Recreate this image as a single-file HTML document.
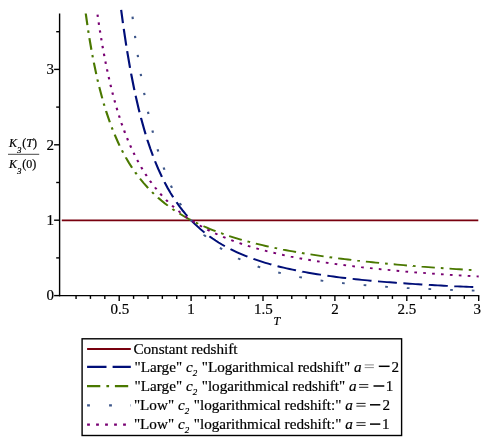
<!DOCTYPE html>
<html><head><meta charset="utf-8"><style>
html,body{margin:0;padding:0;background:#fff;}
body{width:490px;height:444px;overflow:hidden;position:relative;font-family:"Liberation Serif",serif;color:#000;}
svg{position:absolute;left:0;top:0;will-change:transform;opacity:0.999;}
text{font-family:"Liberation Serif",serif;fill:#000;white-space:pre;stroke:#000;stroke-width:0.2px;}
</style></head><body>
<svg width="490" height="444" viewBox="0 0 490 444">
<rect width="490" height="444" fill="#fff"/>
<g stroke="#000" stroke-width="1.4" fill="none">
<line x1="59.6" y1="13.5" x2="59.6" y2="296.3"/>
<line x1="58.9" y1="295.6" x2="479.3" y2="295.6"/>
<line x1="76.06" y1="295.6" x2="76.06" y2="298.90"/><line x1="90.44" y1="295.6" x2="90.44" y2="298.90"/><line x1="104.82" y1="295.6" x2="104.82" y2="298.90"/><line x1="119.20" y1="295.6" x2="119.20" y2="300.90"/><line x1="133.58" y1="295.6" x2="133.58" y2="298.90"/><line x1="147.96" y1="295.6" x2="147.96" y2="298.90"/><line x1="162.34" y1="295.6" x2="162.34" y2="298.90"/><line x1="176.72" y1="295.6" x2="176.72" y2="298.90"/><line x1="191.10" y1="295.6" x2="191.10" y2="300.90"/><line x1="205.48" y1="295.6" x2="205.48" y2="298.90"/><line x1="219.86" y1="295.6" x2="219.86" y2="298.90"/><line x1="234.24" y1="295.6" x2="234.24" y2="298.90"/><line x1="248.62" y1="295.6" x2="248.62" y2="298.90"/><line x1="263.00" y1="295.6" x2="263.00" y2="300.90"/><line x1="277.38" y1="295.6" x2="277.38" y2="298.90"/><line x1="291.76" y1="295.6" x2="291.76" y2="298.90"/><line x1="306.14" y1="295.6" x2="306.14" y2="298.90"/><line x1="320.52" y1="295.6" x2="320.52" y2="298.90"/><line x1="334.90" y1="295.6" x2="334.90" y2="300.90"/><line x1="349.28" y1="295.6" x2="349.28" y2="298.90"/><line x1="363.66" y1="295.6" x2="363.66" y2="298.90"/><line x1="378.04" y1="295.6" x2="378.04" y2="298.90"/><line x1="392.42" y1="295.6" x2="392.42" y2="298.90"/><line x1="406.80" y1="295.6" x2="406.80" y2="300.90"/><line x1="421.18" y1="295.6" x2="421.18" y2="298.90"/><line x1="435.56" y1="295.6" x2="435.56" y2="298.90"/><line x1="449.94" y1="295.6" x2="449.94" y2="298.90"/><line x1="464.32" y1="295.6" x2="464.32" y2="298.90"/><line x1="478.70" y1="295.6" x2="478.70" y2="300.90"/><line x1="54.10" y1="295.60" x2="59.6" y2="295.60"/><line x1="56.20" y1="257.90" x2="59.6" y2="257.90"/><line x1="54.10" y1="220.20" x2="59.6" y2="220.20"/><line x1="56.20" y1="182.50" x2="59.6" y2="182.50"/><line x1="54.10" y1="144.80" x2="59.6" y2="144.80"/><line x1="56.20" y1="107.10" x2="59.6" y2="107.10"/><line x1="54.10" y1="69.40" x2="59.6" y2="69.40"/><line x1="56.20" y1="31.70" x2="59.6" y2="31.70"/>
</g>
<path d="M61.8,220.35 H478.3" stroke="#78000E" stroke-width="1.9" fill="none"/>
<g fill="none" stroke-width="2.15" transform="scale(1,0.886)">
<path d="M121.17,11.17 L121.29,12.21 L122.94,26.08 M123.75,32.53 L123.80,32.90 L126.26,51.36 M127.17,57.80 L127.25,58.34 L130.04,76.58 M131.09,83.00 L131.18,83.55 L134.16,100.41 L134.41,101.70 M135.63,108.09 L135.71,108.51 L138.69,122.95 L139.51,126.69 M140.96,133.02 L141.08,133.52 L144.06,145.66 L145.58,151.45 M147.32,157.72 L147.39,157.98 L150.37,167.99 L152.91,175.87 M155.03,182.02 L155.14,182.31 L158.12,190.34 L161.10,197.74 L161.93,199.72 M164.56,205.66 L164.67,205.90 L167.65,212.14 L170.63,217.94 L173.18,222.58 M176.48,228.18 L176.59,228.36 L179.57,233.05 L182.55,237.43 L185.53,241.53 L187.27,243.81 M191.37,248.85 L191.49,248.99 L194.47,252.38 L197.45,255.57 L200.43,258.58 L203.40,261.42 L204.58,262.49 M209.50,266.74 L209.60,266.83 L212.58,269.22 L215.56,271.48 L218.54,273.62 L221.52,275.66 L224.50,277.59 L224.90,277.84 M230.48,281.19 L230.58,281.25 L233.56,282.91 L236.54,284.49 L239.51,286.00 L242.49,287.45 L245.47,288.83 L247.45,289.71 M253.44,292.22 L253.46,292.23 L256.44,293.40 L259.42,294.52 L262.40,295.60 L265.38,296.63 L268.36,297.62 L271.33,298.57 L271.34,298.58 M277.57,300.45 L277.65,300.47 L280.63,301.31 L283.61,302.12 L286.59,302.90 L289.57,303.65 L292.55,304.38 L295.53,305.07 L295.97,305.18 M302.31,306.57 L302.32,306.58 L305.30,307.20 L308.28,307.80 L311.26,308.38 L314.24,308.94 L317.22,309.48 L320.20,310.00 L320.98,310.14 M327.39,311.20 L327.47,311.21 L330.45,311.68 L333.43,312.14 L336.40,312.58 L339.38,313.01 L342.36,313.42 L345.34,313.82 L346.19,313.94 M352.64,314.76 L352.73,314.77 L355.71,315.13 L358.69,315.49 L361.67,315.83 L364.65,316.16 L367.63,316.48 L370.61,316.80 L371.52,316.89 M377.98,317.54 L378.00,317.54 L380.98,317.83 L383.96,318.11 L386.93,318.38 L389.91,318.64 L392.89,318.90 L395.87,319.15 L396.91,319.24 M403.39,319.76 L403.50,319.76 L406.48,319.99 L409.46,320.22 L412.44,320.44 L415.42,320.65 L418.40,320.86 L421.38,321.06 L422.34,321.12 M428.82,321.54 L428.88,321.55 L431.86,321.74 L434.84,321.92 L437.82,322.10 L440.80,322.27 L443.78,322.44 L446.76,322.61 L447.79,322.66 M454.28,323.01 L454.39,323.02 L457.37,323.17 L460.35,323.32 L463.33,323.47 L466.31,323.61 L469.29,323.75 L472.26,323.89 L473.26,323.94 " stroke="#000E78"/>
<path d="M85.74,15.24 L85.87,16.31 L87.40,28.43 M88.19,34.38 L88.21,34.52 L88.56,37.05 M89.41,42.99 L89.52,43.76 L91.40,56.14 M92.36,62.07 L92.39,62.21 L92.81,64.73 M93.83,70.64 L93.95,71.31 L96.27,83.72 M97.45,89.60 L97.47,89.72 L98.00,92.24 M99.26,98.11 L99.30,98.29 L102.28,111.06 M103.76,116.88 L103.86,117.28 L104.45,119.49 M106.03,125.27 L106.08,125.44 L109.34,136.38 L109.86,138.01 M111.73,143.71 L111.82,143.96 L112.61,146.26 M114.64,151.91 L114.69,152.03 L117.95,160.41 L119.55,164.27 M121.98,169.76 L121.99,169.79 L123.11,172.21 M125.73,177.60 L125.77,177.69 L129.03,183.91 L132.08,189.29 M135.20,194.41 L135.29,194.56 L136.66,196.68 M140.02,201.65 L140.12,201.79 L143.38,206.26 L146.64,210.44 L148.09,212.22 M152.01,216.76 L152.12,216.88 L153.83,218.76 M157.99,223.08 L158.11,223.20 L161.37,226.36 L164.63,229.34 L167.79,232.07 M172.45,235.85 L172.46,235.86 L174.59,237.49 M179.44,241.02 L179.50,241.07 L182.76,243.29 L186.02,245.42 L189.28,247.44 L190.61,248.24 M195.81,251.23 L195.93,251.30 L198.18,252.53 M203.50,255.29 L203.63,255.35 L206.89,256.95 L210.15,258.49 L213.41,259.96 L215.56,260.90 M221.09,263.22 L221.10,263.22 L223.60,264.22 M229.21,266.36 L229.32,266.40 L232.58,267.59 L235.84,268.73 L239.10,269.83 L241.78,270.71 M247.50,272.51 L247.58,272.53 L250.08,273.29 M255.85,274.95 L255.92,274.98 L259.18,275.88 L262.44,276.75 L265.71,277.60 L268.70,278.36 M274.53,279.78 L274.57,279.79 L277.16,280.40 M283.01,281.72 L283.05,281.73 L286.31,282.43 L289.57,283.12 L292.83,283.79 L296.03,284.43 M301.92,285.57 L301.96,285.58 L304.58,286.07 M310.48,287.14 L310.57,287.15 L313.83,287.72 L317.09,288.27 L320.35,288.82 L323.60,289.34 M329.53,290.27 L329.61,290.29 L332.20,290.68 M338.13,291.56 L338.21,291.57 L341.48,292.03 L344.74,292.49 L348.00,292.94 L351.26,293.37 L351.31,293.38 M357.26,294.15 L357.39,294.17 L359.93,294.49 M365.89,295.22 L365.99,295.23 L369.25,295.62 L372.51,296.00 L375.77,296.38 L379.03,296.74 L379.10,296.75 M385.07,297.40 L385.16,297.41 L387.75,297.69 M393.72,298.31 L393.77,298.31 L397.03,298.64 L400.29,298.97 L403.55,299.28 L406.81,299.59 L406.95,299.61 M412.93,300.16 L412.94,300.17 L415.62,300.41 M421.59,300.94 L421.68,300.95 L424.94,301.23 L428.20,301.51 L431.46,301.78 L434.72,302.05 L434.85,302.06 M440.83,302.54 L440.85,302.54 L443.52,302.75 M449.50,303.21 L449.59,303.21 L452.85,303.46 L456.11,303.70 L459.37,303.94 L462.63,304.17 L462.77,304.18 M468.75,304.60 L468.76,304.60 L471.45,304.78 " stroke="#4A7800"/>
<path d="M132.52,18.85 L132.63,19.91 L132.81,21.53 M134.97,40.38 L135.06,41.12 L135.29,43.06 M137.68,61.88 L137.71,62.12 L138.04,64.56 M140.70,83.34 L140.71,83.40 L141.10,86.01 M144.10,104.74 L144.17,105.16 L144.55,107.40 M147.96,126.06 L147.98,126.15 L148.48,128.71 M152.40,147.27 L152.48,147.64 L153.00,149.90 M157.56,168.32 L157.56,168.32 L158.26,170.92 M163.65,189.11 L163.67,189.19 L164.48,191.68 M170.95,209.51 L171.06,209.79 L171.96,212.01 M179.83,229.27 L179.83,229.27 L181.07,231.67 M190.73,247.98 L190.79,248.07 L192.25,250.21 M204.06,265.04 L204.06,265.05 L205.90,267.02 M219.94,279.75 L219.99,279.78 L222.09,281.39 M238.03,291.63 L238.10,291.67 L240.41,292.91 M257.67,300.76 L257.72,300.78 L260.19,301.72 M278.22,307.59 L278.26,307.60 L280.83,308.31 M299.28,312.70 L299.38,312.72 L301.93,313.24 M320.60,316.55 L320.61,316.55 L323.27,316.96 M342.07,319.49 L342.07,319.49 L344.75,319.81 M363.62,321.78 L363.65,321.78 L366.31,322.02 M385.21,323.58 L385.23,323.58 L387.91,323.78 M406.84,325.02 L406.92,325.03 L409.53,325.18 M428.47,326.20 L428.50,326.20 L431.17,326.33 M450.12,327.15 L450.20,327.16 L452.82,327.26 M471.78,327.95 L471.89,327.95 L474.48,328.04 " stroke="#3E578A"/>
<path d="M97.50,16.48 L97.63,17.48 L97.84,19.16 M98.65,25.32 L98.77,26.24 L99.01,28.00 M99.86,34.16 L99.91,34.56 L100.23,36.84 M101.13,42.99 L101.18,43.35 L101.53,45.66 M102.47,51.81 L102.58,52.50 L102.89,54.48 M103.89,60.62 L103.98,61.14 L104.34,63.28 M105.39,69.41 L105.50,70.03 L105.87,72.07 M106.99,78.18 L107.03,78.42 L107.49,80.84 M108.67,86.94 L108.68,86.97 L109.21,89.59 M110.47,95.68 L110.59,96.22 L111.04,98.32 M112.38,104.39 L112.49,104.87 L112.99,107.02 M114.43,113.08 L114.53,113.48 L115.07,115.70 M116.61,121.72 L116.69,122.02 L117.30,124.33 M118.95,130.33 L118.97,130.43 L119.69,132.93 M121.46,138.89 L121.51,139.09 L122.25,141.47 M124.15,147.39 L124.18,147.49 L125.01,149.96 M127.05,155.83 L127.11,155.97 L127.98,158.37 M130.18,164.18 L130.28,164.43 L131.18,166.69 M133.56,172.44 L133.59,172.49 L134.64,174.91 M137.21,180.58 L137.27,180.70 L138.37,183.01 M141.16,188.57 L141.21,188.67 L142.41,190.96 M145.42,196.41 L145.53,196.60 L146.78,198.74 M150.02,204.05 L150.10,204.18 L151.49,206.32 M154.98,211.46 L155.06,211.58 L156.55,213.66 M160.31,218.62 L160.40,218.73 L161.99,220.73 M166.01,225.48 L166.11,225.60 L167.80,227.49 M172.07,232.01 L172.09,232.03 L173.98,233.92 M178.50,238.20 L178.57,238.26 L180.51,240.00 M185.27,244.01 L185.30,244.04 L187.38,245.70 M192.34,249.44 L192.42,249.50 L194.54,251.01 M199.69,254.49 L199.79,254.55 L201.97,255.94 M207.29,259.16 L207.41,259.23 L209.64,260.50 M215.10,263.47 L215.16,263.50 L217.50,264.70 M223.09,267.43 L223.17,267.47 L225.54,268.57 M231.23,271.07 L231.30,271.10 L233.73,272.12 M239.50,274.42 L239.56,274.44 L242.03,275.38 M247.88,277.49 L247.95,277.52 L250.43,278.37 M256.34,280.32 L256.46,280.36 L258.91,281.13 M264.87,282.92 L264.97,282.95 L267.46,283.66 M273.46,285.32 L273.49,285.32 L276.07,286.00 M282.10,287.53 L282.13,287.53 L284.73,288.16 M290.78,289.57 L290.89,289.60 L293.42,290.16 M299.50,291.47 L299.54,291.48 L302.14,292.02 M308.24,293.23 L308.30,293.24 L310.90,293.74 M317.01,294.86 L317.07,294.87 L319.67,295.34 M325.80,296.39 L325.84,296.39 L328.47,296.83 M334.61,297.81 L334.73,297.83 L337.28,298.22 M343.43,299.14 L343.50,299.15 L346.10,299.52 M352.26,300.38 L352.27,300.38 L354.94,300.74 M361.10,301.55 L361.16,301.56 L363.78,301.89 M369.96,302.65 L370.06,302.66 L372.64,302.96 M378.82,303.68 L378.83,303.68 L381.50,303.98 M387.68,304.65 L387.72,304.65 L390.37,304.93 M396.56,305.57 L396.61,305.57 L399.24,305.83 M405.43,306.43 L405.51,306.44 L408.12,306.69 M414.32,307.25 L414.40,307.26 L417.01,307.49 M423.20,308.03 L423.30,308.04 L425.89,308.26 M432.09,308.77 L432.19,308.78 L434.78,308.98 M440.98,309.47 L441.09,309.48 L443.68,309.67 M449.88,310.13 L449.98,310.14 L452.57,310.33 M458.78,310.77 L458.88,310.77 L461.47,310.95 M467.68,311.37 L467.77,311.38 L470.37,311.55 M476.58,311.95 L476.67,311.95 L478.70,312.08 " stroke="#780072"/>
</g>
<text transform="translate(119.8,314.1) scale(1,0.94)" font-size="15" text-anchor="middle">0.5</text><text transform="translate(191,314.1) scale(1,0.94)" font-size="15" text-anchor="middle">1</text><text transform="translate(263.3,314.1) scale(1,0.94)" font-size="15" text-anchor="middle">1.5</text><text transform="translate(335,314.1) scale(1,0.94)" font-size="15" text-anchor="middle">2</text><text transform="translate(406.9,314.1) scale(1,0.94)" font-size="15" text-anchor="middle">2.5</text><text transform="translate(477.3,314.1) scale(1,0.94)" font-size="15" text-anchor="middle">3</text><text transform="translate(54.1,300.3) scale(1,0.92)" font-size="15" text-anchor="end">0</text><text transform="translate(54.1,224.9) scale(1,0.92)" font-size="15" text-anchor="end">1</text><text transform="translate(54.1,149.5) scale(1,0.92)" font-size="15" text-anchor="end">2</text><text transform="translate(54.1,74.1) scale(1,0.92)" font-size="15" text-anchor="end">3</text><text transform="translate(273.6,325.0) scale(1,0.97)" font-size="12" text-anchor="start" font-style="italic">T</text><text transform="translate(9.0,146.5) scale(1,0.97)" font-size="12" text-anchor="start"><tspan font-style="italic">K</tspan><tspan font-style="italic" font-size="9" dy="6.2">3</tspan><tspan dy="-6.2" font-size="3"> </tspan>(<tspan font-style="italic">T</tspan>)</text><text transform="translate(9.0,167.6) scale(1,0.97)" font-size="12" text-anchor="start"><tspan font-style="italic">K</tspan><tspan font-style="italic" font-size="9" dy="6.2">3</tspan><tspan dy="-6.2" font-size="3"> </tspan>(0)</text>
<line x1="8" y1="154.3" x2="39.2" y2="154.3" stroke="#333" stroke-width="0.9"/>
<rect x="82.1" y="338.8" width="319.5" height="96.7" fill="#fff" stroke="#000" stroke-width="1.4"/>
<g fill="none" stroke-width="2.2">
<path d="M87.1,348.9 H130.8" stroke="#78000E" stroke-width="2"/>
<path d="M87.1,366.9 H106.5 M112.6,366.9 H130.8" stroke="#000E78"/>
<path d="M87,386.1 H100.3 M106.4,386.1 H109.1 M114.9,386.1 H128.2" stroke="#4A7800"/>
<path d="M87.1,405.3 H89.9 M109.1,405.3 H111.9 M130.5,405.3 H130.9" stroke="#3E578A"/>
<path d="M87.1,424.6 H89.9 M96.1,424.6 H98.9 M105.1,424.6 H107.9 M114.1,424.6 H116.9 M123.1,424.6 H125.9" stroke="#780072"/>
</g>
<text transform="translate(133.4,354.0) scale(1,0.9)" font-size="15.2" text-anchor="start">Constant redshift</text><text transform="translate(134.6,371.7) scale(1,0.9)" font-size="15.2" text-anchor="start">"Large" <tspan font-style="italic">c</tspan><tspan font-style="italic" font-size="9" dy="4.6">2</tspan><tspan dy="-4.6" font-size="3"> </tspan> "Logarithmical redshift" <tspan font-style="italic">a</tspan></text><path d="M364.7,364.90000000000003 H373.9 M364.7,367.6 H373.9" stroke="#8a8a8a" stroke-width="1" fill="none"/><path d="M378.8,366.3 H389.6" stroke="#000" stroke-width="1.5" fill="none"/><text transform="translate(391.5,371.7) scale(1,0.9)" font-size="15.1" text-anchor="start">2</text><text transform="translate(134.6,390.6) scale(1,0.9)" font-size="15.2" text-anchor="start">"Large" <tspan font-style="italic">c</tspan><tspan font-style="italic" font-size="9" dy="4.6">2</tspan><tspan dy="-4.6" font-size="3"> </tspan> "logarithmical redshift" <tspan font-style="italic">a</tspan></text><path d="M359.1,384.6 H368.3 M359.1,387.3 H368.3" stroke="#222" stroke-width="1" fill="none"/><path d="M373.5,386.0 H384.3" stroke="#000" stroke-width="1.5" fill="none"/><text transform="translate(385.8,390.6) scale(1,0.9)" font-size="15.1" text-anchor="start">1</text><text transform="translate(133.9,409.6) scale(1,0.9)" font-size="15.2" text-anchor="start">"Low" <tspan font-style="italic">c</tspan><tspan font-style="italic" font-size="9" dy="4.6">2</tspan><tspan dy="-4.6" font-size="3"> </tspan> "logarithmical redshift:" <tspan font-style="italic">a</tspan></text><path d="M356.4,403.40000000000003 H365.59999999999997 M356.4,406.1 H365.59999999999997" stroke="#222" stroke-width="1" fill="none"/><path d="M370.0,404.8 H380.3" stroke="#000" stroke-width="1.5" fill="none"/><text transform="translate(382.4,409.6) scale(1,0.9)" font-size="15.1" text-anchor="start">2</text><text transform="translate(133.9,429.0) scale(1,0.9)" font-size="15.2" text-anchor="start">"Low" <tspan font-style="italic">c</tspan><tspan font-style="italic" font-size="9" dy="4.6">2</tspan><tspan dy="-4.6" font-size="3"> </tspan> "logarithmical redshift:" <tspan font-style="italic">a</tspan></text><path d="M356.4,422.70000000000005 H365.59999999999997 M356.4,425.40000000000003 H365.59999999999997" stroke="#222" stroke-width="1" fill="none"/><path d="M370.0,424.1 H380.3" stroke="#000" stroke-width="1.5" fill="none"/><text transform="translate(382.0,429.0) scale(1,0.9)" font-size="15.1" text-anchor="start">1</text>
</svg>
</body></html>
